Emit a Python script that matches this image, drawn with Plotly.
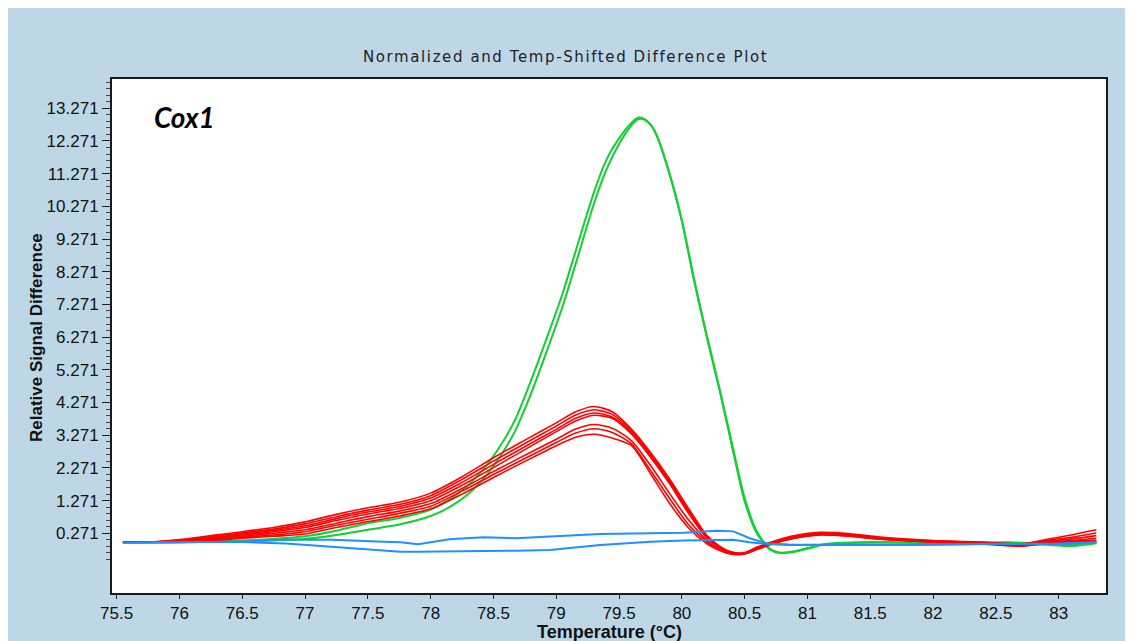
import plotly.graph_objects as go

# ---------------- data ----------------
red_temp = [75.55, 75.75, 76.0, 76.25, 76.5, 76.75, 77.0, 77.25, 77.5, 77.75, 78.0, 78.25, 78.5, 78.75,
            79.0, 79.15, 79.3, 79.45, 79.6, 79.75, 79.9, 80.05, 80.2, 80.3, 80.4, 80.5, 80.6, 80.75,
            80.9, 81.1, 81.3, 81.6, 82.0, 82.4, 82.7, 82.9, 83.1, 83.3]
red_1 = [0.0, 0.0, 0.08, 0.2, 0.32, 0.45, 0.62, 0.85, 1.05, 1.22, 1.5, 2.0, 2.58, 3.12, 3.65, 3.98, 4.15, 3.98,
         3.45, 2.75, 1.95, 1.05, 0.2, -0.12, -0.3, -0.32, -0.15, 0.05, 0.2, 0.3, 0.27, 0.15, 0.05, 0.0, -0.05,
         0.08, 0.22, 0.38]
red_2 = [0.0, 0.0, 0.06, 0.17, 0.28, 0.4, 0.56, 0.78, 0.98, 1.15, 1.42, 1.92, 2.48, 3.02, 3.55, 3.88, 4.05, 3.9,
         3.4, 2.7, 1.9, 1.0, 0.18, -0.14, -0.32, -0.33, -0.17, 0.03, 0.18, 0.28, 0.25, 0.13, 0.04, -0.01, -0.07,
         0.05, 0.15, 0.28]
red_3 = [0.0, 0.0, 0.05, 0.14, 0.25, 0.36, 0.5, 0.72, 0.92, 1.09, 1.35, 1.83, 2.38, 2.92, 3.45, 3.78, 3.95, 3.82,
         3.35, 2.65, 1.85, 0.95, 0.15, -0.15, -0.33, -0.34, -0.18, 0.02, 0.16, 0.26, 0.24, 0.12, 0.03, -0.02,
         -0.08, 0.03, 0.1, 0.2]
red_4 = [0.0, 0.0, 0.04, 0.12, 0.22, 0.32, 0.45, 0.66, 0.86, 1.03, 1.27, 1.74, 2.28, 2.83, 3.38, 3.7, 3.88, 3.78,
         3.3, 2.6, 1.8, 0.9, 0.12, -0.17, -0.34, -0.35, -0.19, 0.01, 0.15, 0.25, 0.22, 0.11, 0.02, -0.03, -0.1,
         0.0, 0.05, 0.12]
red_5 = [0.0, 0.0, 0.03, 0.1, 0.18, 0.27, 0.38, 0.58, 0.78, 0.95, 1.18, 1.64, 2.16, 2.66, 3.15, 3.45, 3.6, 3.48,
         3.1, 2.35, 1.5, 0.7, 0.05, -0.22, -0.36, -0.35, -0.2, 0.0, 0.14, 0.24, 0.21, 0.1, 0.02, -0.04, -0.1,
         -0.02, 0.03, 0.06]
red_6 = [0.0, 0.0, 0.02, 0.07, 0.15, 0.22, 0.32, 0.52, 0.7, 0.88, 1.1, 1.56, 2.07, 2.56, 3.05, 3.33, 3.47, 3.35,
         3.0, 2.2, 1.35, 0.55, 0.0, -0.25, -0.37, -0.36, -0.21, -0.01, 0.13, 0.23, 0.2, 0.09, 0.01, -0.05, -0.12,
         -0.03, 0.02, 0.03]
red_7 = [0.0, 0.0, 0.0, 0.04, 0.12, 0.18, 0.25, 0.45, 0.63, 0.8, 1.02, 1.47, 1.98, 2.47, 2.95, 3.2, 3.3, 3.18,
         2.95, 2.1, 1.2, 0.45, -0.05, -0.25, -0.36, -0.35, -0.22, -0.02, 0.12, 0.22, 0.19, 0.08, 0.0, -0.06,
         -0.12, -0.05, 0.0, 0.0]

green_temp = [75.55, 75.9, 76.25, 76.5, 76.75, 77.0, 77.25, 77.5, 77.75, 78.0, 78.15, 78.3, 78.43, 78.55, 78.67,
              78.8, 78.93, 79.05, 79.15, 79.3, 79.4, 79.5, 79.58, 79.65, 79.7, 79.75, 79.8, 79.9, 80.0, 80.1,
              80.2, 80.3, 80.4, 80.5, 80.6, 80.7, 80.78, 80.9, 81.0, 81.15, 81.4, 81.7, 82.0, 82.3, 82.6, 82.9,
              83.1, 83.3]
green_1 = [0.0, 0.0, 0.02, 0.05, 0.1, 0.18, 0.35, 0.58, 0.74, 1.0, 1.3, 1.75, 2.28, 2.92, 3.72, 4.95, 6.3, 7.6,
           8.85, 10.7, 11.7, 12.35, 12.75, 12.98, 12.95, 12.78, 12.45, 11.3, 9.85, 8.0, 6.3, 4.7, 3.0, 1.35,
           0.3, -0.2, -0.32, -0.28, -0.18, -0.05, 0.0, 0.0, -0.02, -0.02, 0.0, -0.05, -0.08, 0.0]
green_2 = [0.0, 0.0, 0.01, 0.03, 0.06, 0.1, 0.22, 0.38, 0.54, 0.8, 1.07, 1.47, 1.98, 2.6, 3.38, 4.55, 5.9, 7.2,
           8.45, 10.35, 11.4, 12.18, 12.66, 12.93, 12.93, 12.77, 12.43, 11.28, 9.82, 7.95, 6.25, 4.65, 2.92,
           1.25, 0.25, -0.22, -0.33, -0.29, -0.2, -0.06, -0.02, -0.01, -0.03, -0.04, -0.02, -0.08, -0.12, -0.03]

blue_temp = [75.55, 76.0, 76.43, 76.85, 77.22, 77.57, 77.76, 77.9, 78.15, 78.42, 78.68, 78.95, 79.35, 79.75,
             80.01, 80.28, 80.41, 80.54, 80.68, 80.85, 81.2, 81.6, 82.0, 82.5, 83.0, 83.3]
blue_1 = [-0.02, 0.0, 0.01, 0.07, 0.07, 0.02, 0.0, -0.06, 0.09, 0.15, 0.12, 0.17, 0.25, 0.27, 0.29, 0.35, 0.33,
          0.12, -0.04, -0.07, -0.08, -0.08, -0.07, -0.05, -0.06, -0.02]
blue_2 = [-0.02, 0.0, 0.01, -0.04, -0.14, -0.24, -0.29, -0.29, -0.27, -0.27, -0.26, -0.24, -0.09, 0.01, 0.05,
          0.07, 0.07, 0.0, -0.06, -0.09, -0.09, -0.09, -0.08, -0.06, -0.04, 0.0]

x_tick_values = [75.5, 76.0, 76.5, 77.0, 77.5, 78.0, 78.5, 79.0, 79.5, 80.0, 80.5, 81.0, 81.5, 82.0, 82.5, 83.0]
x_tick_labels = ["75.5", "76", "76.5", "77", "77.5", "78", "78.5", "79", "79.5", "80", "80.5", "81",
                 "81.5", "82", "82.5", "83"]
y_tick_values = [0.271, 1.271, 2.271, 3.271, 4.271, 5.271, 6.271, 7.271, 8.271, 9.271, 10.271, 11.271,
                 12.271, 13.271]
y_tick_labels = ["0.271", "1.271", "2.271", "3.271", "4.271", "5.271", "6.271", "7.271", "8.271", "9.271",
                 "10.271", "11.271", "12.271", "13.271"]

chart_title = "Normalized and Temp-Shifted Difference Plot"
x_title = "Temperature (°C)"
y_title = "Relative Signal Difference"
gene_label = "Cox1"

# ---------------- figure ----------------
GREEN = "#12D030"
RED = "#FF0000"
BLUE = "#1E90FF"

fig = go.Figure()
for ys in [green_2, green_1]:
    fig.add_trace(go.Scatter(x=green_temp, y=ys, mode="lines",
                             line=dict(color=GREEN, width=2, shape="spline", smoothing=0.7),
                             hoverinfo="skip"))
for ys in [red_7, red_6, red_5, red_4, red_3, red_2, red_1]:
    fig.add_trace(go.Scatter(x=red_temp, y=ys, mode="lines",
                             line=dict(color=RED, width=1.6, shape="spline", smoothing=0.7),
                             hoverinfo="skip"))
for ys in [blue_2, blue_1]:
    fig.add_trace(go.Scatter(x=blue_temp, y=ys, mode="lines",
                             line=dict(color=BLUE, width=2, shape="linear"),
                             hoverinfo="skip"))

minor_y = []
v = 0.271 - 0.8
while v < 14.1:
    if abs((v - 0.271) - round(v - 0.271)) > 1e-6:
        minor_y.append(round(v, 3))
    v += 0.2

SANS = "Liberation Sans, Arial, sans-serif"
tick_font = dict(family=SANS, size=17, color="#111111")

fig.update_layout(
    width=1125, height=633,
    margin=dict(l=104, r=27, t=71, b=48),
    paper_bgcolor="#BDD7E7",
    plot_bgcolor="#FFFFFF",
    showlegend=False,
    xaxis=dict(
        range=[75.463, 83.377], tickmode="array", tickvals=x_tick_values, ticktext=x_tick_labels,
        ticks="outside", ticklen=4, tickwidth=1, tickcolor="#222222",
        showline=True, linecolor="#1A1A1A", linewidth=2, mirror=True,
        showgrid=False, zeroline=False, tickfont=tick_font,
    ),
    yaxis=dict(
        range=[-1.555, 14.167], tickmode="array", tickvals=y_tick_values, ticktext=y_tick_labels,
        ticks="outside", ticklen=8, tickwidth=1, tickcolor="#222222",
        showline=True, linecolor="#1A1A1A", linewidth=2, mirror=True,
        showgrid=False, zeroline=False, tickfont=tick_font,
        minor=dict(tickmode="array", tickvals=minor_y, ticks="outside", ticklen=4,
                   tickcolor="#444444", tickwidth=1, showgrid=False),
    ),
    annotations=[
        dict(text='<span style="letter-spacing:1.6px">' + chart_title + '</span>',
             xref="paper", yref="paper", x=0.4567, y=1.0428,
             xanchor="center", yanchor="middle", showarrow=False,
             font=dict(family="DejaVu Sans, Verdana, sans-serif", size=15, color="#222222")),
        dict(text="<b>" + y_title + "</b>", xref="paper", yref="paper", x=-0.0765, y=0.498,
             xanchor="center", yanchor="middle", showarrow=False, textangle=-90,
             font=dict(family=SANS, size=17, color="#111111")),
        dict(text="<b>" + x_title + "</b>", xref="paper", yref="paper", x=0.501, y=-0.0762,
             xanchor="center", yanchor="middle", showarrow=False,
             font=dict(family=SANS, size=18, color="#111111")),
        dict(text="<b><i>" + gene_label + "</i></b>", xref="paper", yref="paper", x=0.0402, y=0.926,
             xanchor="left", yanchor="middle", showarrow=False,
             font=dict(family="Lato, Open Sans, sans-serif", size=28, color="#000000")),
    ],
)

fig.write_html("out.html")
